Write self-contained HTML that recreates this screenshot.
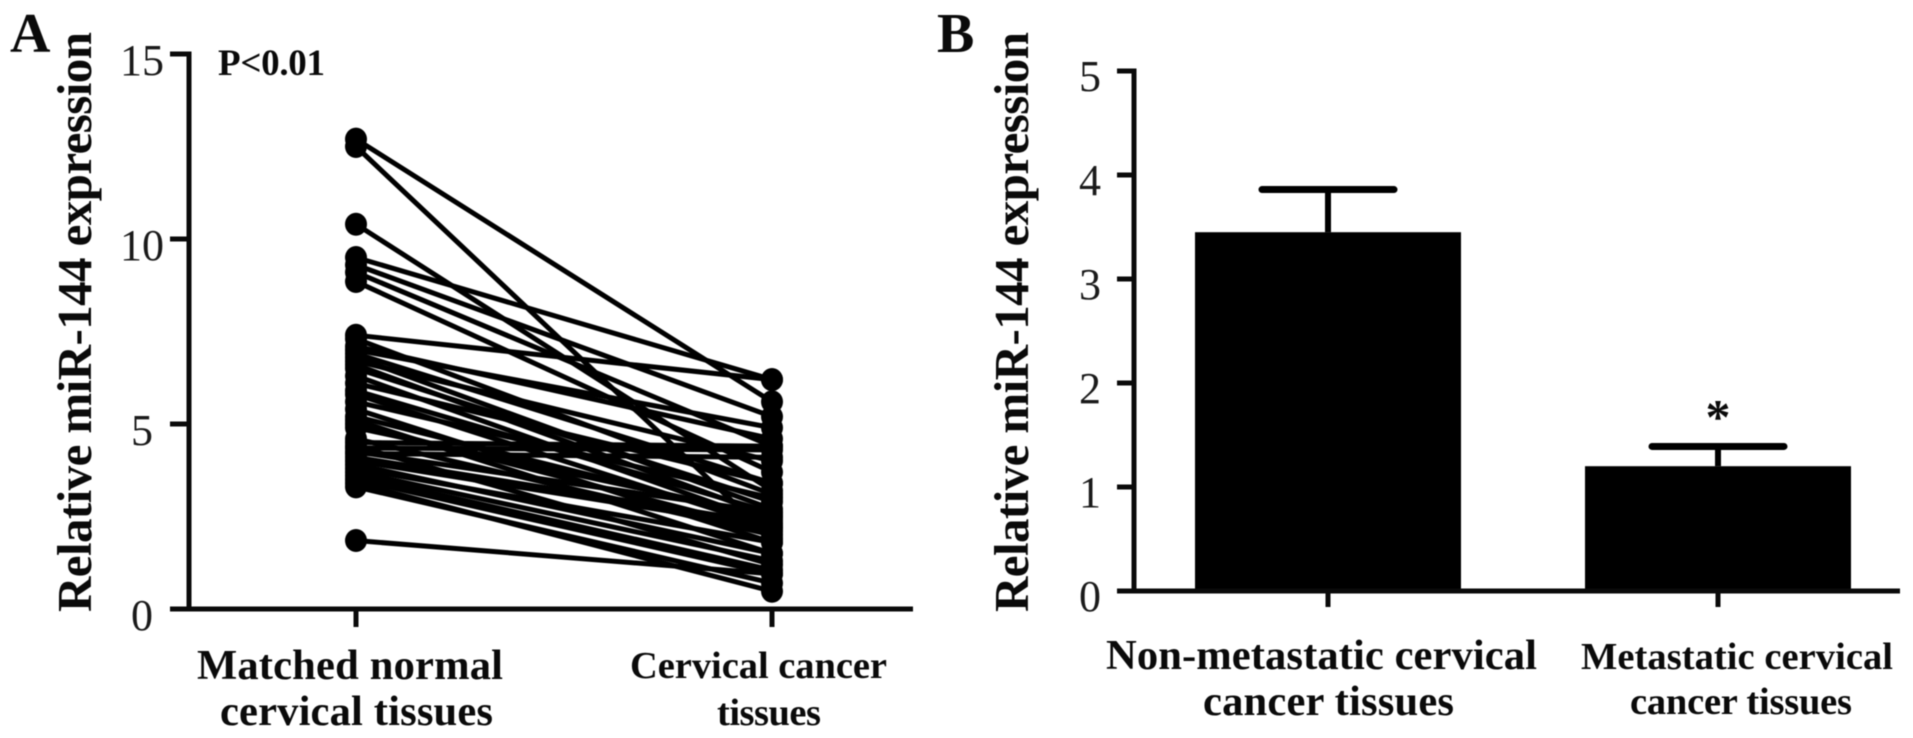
<!DOCTYPE html>
<html lang="en">
<head>
<meta charset="utf-8">
<title>Relative miR-144 expression</title>
<style>
  html, body { margin: 0; padding: 0; background: #fff; }
  body { width: 1913px; height: 738px; overflow: hidden; }
  svg { display: block; filter: blur(0.5px); }
  text { font-family: "Liberation Serif", serif; fill: #0a0a0a; }
  .b { font-weight: bold; }
  .cat { font-weight: bold; font-size: 38.5px; }
  .cat-l { font-weight: bold; font-size: 42.6px; }
  .ytitle { font-weight: bold; font-size: 49px; }
  .tick { font-size: 44px; fill: #1a1a1a; text-anchor: middle; }
</style>
</head>
<body>
<svg id="fig" width="1913" height="738" viewBox="0 0 1913 738" xmlns="http://www.w3.org/2000/svg">
  <rect x="0" y="0" width="1913" height="738" fill="#fff"/>
  <g id="panelA">
    <text class="b" x="10" y="52" font-size="56">A</text>
    <text class="ytitle" transform="translate(91,612) rotate(-90)" textLength="580" lengthAdjust="spacing">Relative miR-144 expression</text>
    <text class="b" x="218" y="75" font-size="37" textLength="107">P&lt;0.01</text>
    <text class="cat-l" x="197" y="679" textLength="306">Matched normal</text>
    <text class="cat-l" x="220" y="725" textLength="273">cervical tissues</text>
    <text class="cat" x="630" y="678" textLength="257">Cervical cancer</text>
    <text class="cat" x="717" y="725" textLength="104">tissues</text>
  </g>
  <g id="panelB">
    <text class="b" x="937" y="52" font-size="56">B</text>
    <text class="ytitle" transform="translate(1028,612) rotate(-90)" textLength="580" lengthAdjust="spacing">Relative miR-144 expression</text>
    <text class="cat-l" x="1106" y="669" textLength="431">Non-metastatic cervical</text>
    <text class="cat-l" x="1203" y="715" textLength="251">cancer tissues</text>
    <text class="cat" x="1581" y="669" textLength="312">Metastatic cervical</text>
    <text class="cat" x="1630" y="714" textLength="222">cancer tissues</text>
  </g>
</svg>
<script>
// Panel A data
const pairedTicks = [0, 5, 10, 15];
const pairedTickLabels = ["0", "5", "10", "15"];
const normalValues = [12.7, 12.5, 10.4, 9.5, 9.3, 9.1, 8.85, 7.4, 7.3, 7.1, 7.0, 6.9, 6.8, 6.7, 6.6, 6.5, 6.3, 6.1, 5.9, 5.8, 5.6, 5.4, 5.2, 5.1, 5.0, 4.9, 4.6, 4.5, 4.4, 4.35, 4.25, 4.2, 4.1, 4.0, 3.9, 3.8, 3.7, 3.6, 3.5, 3.4, 3.3, 1.85];
const cancerValues = [5.6, 1.9, 3.2, 6.2, 5.2, 4.4, 3.7, 6.2, 3.1, 4.6, 4.9, 3.4, 2.7, 4.0, 2.5, 2.9, 2.3, 3.4, 2.6, 2.2, 3.0, 1.8, 2.4, 1.5, 2.1, 2.5, 2.0, 4.4, 1.2, 4.3, 2.6, 4.1, 2.3, 2.2, 1.5, 1.8, 1.3, 1.05, 0.95, 0.48, 0.7, 0.95];

// Panel B data
const barTicks = [0, 1, 2, 3, 4, 5];
const barTickLabels = ["0", "1", "2", "3", "4", "5"];
const barMeans = [3.45, 1.2];
const barErrors = [0.41, 0.19];

// Axis functions
function yPaired(v) { return 609 - 37 * v; }
function xPaired(i) { return 356 + 416 * i; }
function yBar(v) { return 591 - 104 * v; }
function xBar(i) { return 1328 + 390 * i; }

const NS = "http://www.w3.org/2000/svg";
const panelA = document.getElementById("panelA");
const panelB = document.getElementById("panelB");

function make(tag, parent, attrs) {
  const el = document.createElementNS(NS, tag);
  for (const k in attrs) el.setAttribute(k, attrs[k]);
  parent.appendChild(el);
  return el;
}

const AXIS = { stroke: "#0a0a0a", "stroke-width": 5, "stroke-linecap": "butt" };

// ---------- Panel A ----------
normalValues.forEach(function (v, i) {
  const ln = make("line", panelA, { x1: xPaired(0), y1: yPaired(v), x2: xPaired(1), y2: yPaired(cancerValues[i]), stroke: "#000", "stroke-width": 5 });
  
  
});
normalValues.forEach(function (v) {
  const c = make("ellipse", panelA, { cx: xPaired(0), cy: yPaired(v), rx: 11, ry: 11.5, fill: "#000" });
  
  
});
cancerValues.forEach(function (v) {
  const c = make("ellipse", panelA, { cx: xPaired(1), cy: yPaired(v), rx: 11, ry: 11.5, fill: "#000" });
  
  
});

const yAxisA = make("line", panelA, Object.assign({ x1: 189, x2: 189, y1: yPaired(15) - 2.5, y2: yPaired(0) + 2.5 }, AXIS));


const xAxisA = make("line", panelA, Object.assign({ x1: 170, x2: 913, y1: yPaired(0), y2: yPaired(0) }, AXIS));



pairedTicks.forEach(function (t, i) {
  const tk = make("line", panelA, Object.assign({ x1: 170, x2: 189, y1: yPaired(t), y2: yPaired(t) }, AXIS));
  
  
  const lb = make("text", panelA, { class: "tick", x: 142, y: yPaired(t) + 21 });
  lb.textContent = pairedTickLabels[i];
  
  
});
[0, 1].forEach(function (i) {
  const tk = make("line", panelA, Object.assign({ x1: xPaired(i), x2: xPaired(i), y1: yPaired(0), y2: yPaired(0) + 18 }, AXIS));
  
  
});

// ---------- Panel B ----------
barMeans.forEach(function (m, i) {
  const cx = xBar(i);
  const top = yBar(m);
  const errTop = yBar(m + barErrors[i]);
  const bar = make("rect", panelB, { x: cx - 133, y: top, width: 266, height: yBar(0) - top, fill: "#000" });
  
  
  const stem = make("line", panelB, { x1: cx, x2: cx, y1: errTop, y2: top, stroke: "#000", "stroke-width": 6 });
  
  
  const cap = make("line", panelB, { x1: cx - 66, x2: cx + 66, y1: errTop, y2: errTop, stroke: "#000", "stroke-width": 7, "stroke-linecap": "round" });
  
  
  const tk = make("line", panelB, Object.assign({ x1: cx, x2: cx, y1: yBar(0), y2: yBar(0) + 16 }, AXIS));
  
  
});

const yAxisB = make("line", panelB, Object.assign({ x1: 1134, x2: 1134, y1: yBar(5) - 2.5, y2: yBar(0) + 2.5 }, AXIS));


const xAxisB = make("line", panelB, Object.assign({ x1: 1117, x2: 1900, y1: yBar(0), y2: yBar(0) }, AXIS));



barTicks.forEach(function (t, i) {
  const tk = make("line", panelB, Object.assign({ x1: 1117, x2: 1134, y1: yBar(t), y2: yBar(t) }, AXIS));
  
  
  const lb = make("text", panelB, { class: "tick", x: 1090, y: yBar(t) + 20 });
  lb.textContent = barTickLabels[i];
  
  
});

const star = make("text", panelB, { x: xBar(1), y: yBar(barMeans[1] + barErrors[1]) - 13, "font-size": 50, "font-weight": "bold", "text-anchor": "middle" });
star.textContent = "*";


</script>
</body>
</html>
